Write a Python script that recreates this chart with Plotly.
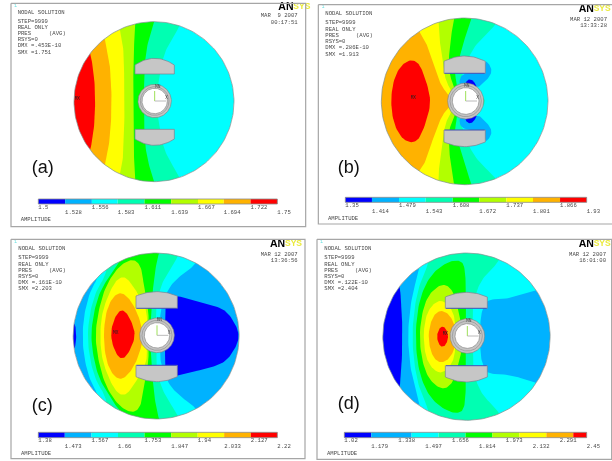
import numpy as np
import plotly.graph_objects as go

BLUE, LB, CY, AQ, GR, LI, YE, OR, RE = "#0000ff", "#00b2ff", "#00ffff", "#00ffb2", "#00ff00", "#b2ff00", "#ffff00", "#ffb200", "#ff0000"
BAR_COLORS = [BLUE, LB, CY, AQ, GR, LI, YE, OR, RE]

# --- contour levels shown under each plot
levels_a = ["1.5", "1.528", "1.556", "1.583", "1.611", "1.639", "1.667", "1.694", "1.722", "1.75"]
levels_b = ["1.35", "1.414", "1.479", "1.543", "1.608", "1.672", "1.737", "1.801", "1.866", "1.93"]
levels_c = ["1.38", "1.473", "1.567", "1.66", "1.753", "1.847", "1.94", "2.033", "2.127", "2.22"]
levels_d = ["1.02", "1.179", "1.338", "1.497", "1.656", "1.814", "1.973", "2.132", "2.291", "2.45"]
edges_d = [1.02, 1.179, 1.417, 1.576, 1.735, 1.894, 2.053, 2.212, 2.371, 2.45]

# --- header text
head_a = ["NODAL SOLUTION", "STEP=9999", "REAL ONLY", "PRES", "RSYS=0", "DMX =.453E-10", "SMX =1.751"]
head_b = ["NODAL SOLUTION", "STEP=9999", "REAL ONLY", "PRES", "RSYS=0", "DMX =.286E-10", "SMX =1.913"]
head_c = ["NODAL SOLUTION", "STEP=9999", "REAL ONLY", "PRES", "RSYS=0", "DMX =.161E-10", "SMX =2.203"]
head_d = ["NODAL SOLUTION", "STEP=9999", "REAL ONLY", "PRES", "RSYS=0", "DMX =.122E-10", "SMX =2.404"]

# --- contour band outlines (upper half, 3x panel units)
bands_a = [
    (AQ, [(205,305),(205,40),(553,40),(540,78),(510,125),(488,172),(475,250),(468,305)]),
    (GR, [(205,305),(205,40),(470,40),(462,65),(445,120),(435,175),(432,250),(432,305)]),
    (LI, [(205,305),(205,40),(408,40),(405,72),(403,120),(400,180),(400,250),(400,305)]),
    (YE, [(205,305),(205,40),(350,40),(360,88),(370,140),(372,200),(374,305)]),
    (OR, [(205,305),(205,40),(300,40),(315,118),(328,180),(333,240),(335,305)]),
    (RE, [(205,305),(205,90),(262,130),(272,162),(283,230),(286,305)]),
]
bands_b = [
    (AQ, [(205,304),(205,30),(600,30),(565,80),(520,120),(490,165),(470,222),(460,250),(458,304)]),
    (GR, [(205,304),(205,30),(505,30),(496,55),(478,110),(460,170),(445,222),(452,245),(458,304)]),
    (LI, [(205,304),(205,30),(450,30),(443,60),(435,110),(428,170),(430,222),(440,250),(447,262),(450,304)]),
    (YE, [(205,304),(205,30),(396,30),(398,78),(400,120),(410,170),(414,220),(425,255),(437,270),(440,304)]),
    (OR, [(205,304),(205,30),(325,70),(345,102),(362,130),(375,175),(395,230),(410,265),(430,285),(436,304)]),
    (RE, [(254,304),(262,240),(285,195),(315,178),(340,190),(360,240),(376,304)]),
]
lobes_b = [
    (LB, [(467,218),(537,218),(537,180),(552,195),(558,215),(547,235),(532,248),(522,262),(482,260),(457,255)]),
    (BLUE, [(477,250),(487,237),(500,240),(507,250),(515,262),(482,258)]),
]
spot_b = [(525,280),(540,304),(525,328)]

bands_c = [
    (BLUE, [(200,315),(200,270),(224,270),(230,315)]),
    (CY, [(247,315),(252,250),(270,180),(300,130),(300,40),(610,40),(590,100),(545,130),(505,170),(482,232),(480,270),(480,315)]),
    (AQ, [(262,315),(270,240),(290,175),(320,130),(330,40),(545,40),(533,80),(505,120),(480,170),(468,232),(468,270),(468,315)]),
    (GR, [(272,315),(282,240),(300,180),(335,125),(355,95),(400,45),(490,45),(475,68),(465,120),(458,180),(455,232),(452,270),(452,315)]),
    (LI, [(285,315),(295,240),(315,170),(345,120),(375,92),(405,85),(425,110),(432,170),(445,232),(446,270),(446,315)]),
    (YE, [(300,315),(305,250),(325,190),(350,145),(375,135),(400,165),(420,200),(438,232),(442,270),(442,315)]),
    (OR, [(310,315),(318,240),(340,195),(365,183),(390,205),(410,240),(425,285),(428,315)]),
    (RE, [(330,310),(345,255),(367,232),(390,260),(408,310)]),
]
blue_c = [(495,315),(495,265),(495,232),(500,195),(532,194),(580,208),(640,222),(680,240),(710,285),(717,315)]

bands_d = [
    (BLUE, [(210,317),(210,130),(275,150),(282,165),(288,250),(289,317)]),
    (CY, [(305,317),(312,230),(325,165),(345,100),(345,40),(720,40),(720,170),(690,178),(640,195),(590,205),(545,205),(530,232),(523,265),(523,317)]),
    (AQ, [(318,317),(325,230),(340,160),(365,105),(380,50),(590,50),(580,92),(535,135),(515,170),(505,205),(500,232),(500,317)]),
    (GR, [(328,317),(335,230),(355,165),(385,120),(430,90),(465,88),(477,110),(480,180),(480,232),(478,317)]),
    (LI, [(340,317),(347,250),(365,195),(395,165),(420,160),(440,180),(450,205),(455,232),(467,270),(467,317)]),
    (YE, [(352,317),(358,260),(375,225),(400,207),(420,215),(435,232),(447,262),(448,317)]),
    (OR, [(367,317),(372,280),(385,250),(405,237),(430,250),(448,285),(452,317)]),
    (RE, [(392,317),(398,295),(408,285),(420,292),(428,317)]),
]

PANELS = [
    dict(off=(0,0), frame=(33,917,10,680), disc=(462,305,240), base=CY, bands=bands_a, lobes=[], spot=None, extra=None,
         ring=(464,303,50,38), mag=(405,523,222,195,175,388,417,436), head=head_a, hx=53, hy=[38,65,84,102,120,138,157],
         avg=147, date=("MAR  9 2007","00:17:51"), dx=893, dy=(48,67), logo=(835,22), bar=(115,832,597,612), ly=(622,638),
         amp=(62,660), tag=("(a)",95,505), mx=(232,297), mn=(473,260), lev=levels_a, edges=None),
    dict(off=(306,0), frame=(37,930,14,672), disc=(476,304,250), base=CY, bands=bands_b, lobes=lobes_b, spot=spot_b, extra=None,
         ring=(479,303,54,40), mag=(414,538,220,184,168,390,426,440), head=head_b, hx=58, hy=[42,69,88,106,125,144,163],
         avg=150, date=("MAR 12 2007","13:33:28"), dx=903, dy=(58,77), logo=(818,28), bar=(118,842,592,607), ly=(618,635),
         amp=(66,655), tag=("(b)",95,505), mx=(322,295), mn=(482,258), lev=levels_b, edges=None),
    dict(off=(0,231), frame=(33,915,25,683), disc=(468.5,315,249), base=LB, bands=bands_c, lobes=[], spot=None, extra=blue_c,
         ring=(471,313,52,38), mag=(408,532,232,195,182,403,437,452), head=head_c, hx=55, hy=[54,81,100,118,137,156,174],
         avg=147, date=("MAR 12 2007","13:36:56"), dx=893, dy=(70,89), logo=(810,40), bar=(115,832,604,620), ly=(630,647),
         amp=(63,667), tag=("(c)",95,525), mx=(347,307), mn=(478,268), lev=levels_c, edges=None),
    dict(off=(306,231), frame=(33,917,25,685), disc=(481.5,317,251), base=LB, bands=bands_d, lobes=[], spot=None, extra=None,
         ring=(484,315,52,37), mag=(418,544,232,198,184,404,438,453), head=head_d, hx=55, hy=[54,81,100,118,137,156,174],
         avg=147, date=("MAR 12 2007","16:01:00"), dx=900, dy=(70,89), logo=(818,40), bar=(115,842,604,620), ly=(630,647),
         amp=(63,667), tag=("(d)",95,520), mx=(418,308), mn=(488,270), lev=levels_d, edges=edges_d),
]

MONO = "Liberation Mono"
TXT = "#4a4a4a"
fig = go.Figure()


def round_off(a, n=3):
    """Corner-cutting of a closed outline, stays inside the drawn points."""
    for _ in range(n):
        b = np.roll(a, -1, axis=0)
        a = np.vstack([np.ravel(np.column_stack([0.75 * a[:, 0] + 0.25 * b[:, 0], 0.25 * a[:, 0] + 0.75 * b[:, 0]])),
                       np.ravel(np.column_stack([0.75 * a[:, 1] + 0.25 * b[:, 1], 0.25 * a[:, 1] + 0.75 * b[:, 1]]))]).T
    return a


def poly(xs, ys, fill=None, line=None, lw=0.0):
    fig.add_trace(go.Scatter(
        x=list(xs), y=list(ys), mode="lines", hoverinfo="skip", showlegend=False,
        fill="toself" if fill else None, fillcolor=fill,
        line=dict(color=line or "rgba(0,0,0,0)", width=lw),
    ))


def text(xs, ys, labels, size=5.6, color=TXT, family=MONO, pos="middle right", weight="normal"):
    fig.add_trace(go.Scatter(
        x=xs, y=ys, text=labels, mode="text", textposition=pos, hoverinfo="skip", showlegend=False,
        cliponaxis=False, textfont=dict(size=size, color=color, family=family, weight=weight),
    ))


for p in PANELS:
    ox, oy = p["off"]
    X = lambda v: ox + np.asarray(v, float) / 3
    Y = lambda v: oy + np.asarray(v, float) / 3
    cx, cy, r = p["disc"]
    t = np.linspace(0, 2 * np.pi, 181)
    circ_x, circ_y = cx + r * np.cos(t), cy + r * np.sin(t)

    poly(X(circ_x), Y(circ_y), fill=p["base"])

    def band(color, pts):
        a = np.array(pts, float)
        my = a[0, 1]
        lower = a[::-1].copy()
        lower[:, 1] = 2 * my - lower[:, 1]
        full = round_off(np.vstack([a, lower[1:-1]]))
        poly(X(full[:, 0]), Y(full[:, 1]), fill=color)

    if p["extra"] is not None:
        band(*p["bands"][0])
        for b in p["bands"][1:]:
            band(*b)
        band(BLUE, p["extra"])
    else:
        for b in p["bands"]:
            band(*b)

    for color, pts in p["lobes"]:
        a = round_off(np.array(pts, float))
        poly(X(a[:, 0]), Y(a[:, 1]), fill=color)
        poly(X(a[:, 0]), Y(2 * cy - a[:, 1]), fill=color)
    if p["spot"]:
        a = round_off(np.array(p["spot"], float))
        poly(X(a[:, 0]), Y(a[:, 1]), fill=AQ)

    # white surround that trims the bands to the disc
    fx0, fx1, fy0, fy1 = p["frame"]
    mx_ = [fx0, fx1, fx1, fx0, fx0, cx - r] + list(cx - r * np.cos(t)) + [fx0]
    my_ = [fy0, fy0, fy1, fy1, cy, cy] + list(cy + r * np.sin(t)) + [cy]
    poly(X(mx_), Y(my_), fill="#ffffff")
    poly(X(circ_x), Y(circ_y), line="#7f8f8f", lw=0.7)

    # pole pieces
    x0, x1, f1, s1, k1, f2, s2, k2 = p["mag"]
    u = np.linspace(-1, 1, 25)
    xa = (x0 + x1) / 2 + u * (x1 - x0) / 2
    top_y = k1 + (s1 - k1) * u ** 2
    bot_y = k2 + (s2 - k2) * u ** 2
    poly(X(np.r_[x0, xa, x1, x0]), Y(np.r_[f1, top_y, f1, f1]), fill="#c6c6c6", line="#7a8290", lw=0.7)
    poly(X(np.r_[x0, xa, x1, x0]), Y(np.r_[f2, bot_y, f2, f2]), fill="#c6c6c6", line="#7a8290", lw=0.7)
    if p["extra"] is not None or p["lobes"] or p["bands"] is bands_d:
        poly(X([x0 + 2, x1 - 2]), Y([f1, f1]), line="#2233cc", lw=0.6)
        poly(X([x0 + 2, x1 - 2]), Y([f2, f2]), line="#2233cc", lw=0.6)

    # shaft ring and triad
    rx, ry, ro, ri = p["ring"]
    poly(X(rx + ro * np.cos(t)), Y(ry + ro * np.sin(t)), fill="#c4c4c4", line="#808080", lw=0.6)
    poly(X(rx + (ro - 7) * np.cos(t)), Y(ry + (ro - 7) * np.sin(t)), line="#8a8a8a", lw=0.6)
    poly(X(rx + ri * np.cos(t)), Y(ry + ri * np.sin(t)), fill="#ffffff", line="#808080", lw=0.6)
    poly(X([rx, rx]), Y([ry, ry - 30]), line="#9ee05a", lw=1)
    poly(X([rx, rx + 34]), Y([ry, ry]), line="#a8a8a8", lw=0.8)
    text([float(X(rx + 32))], [float(Y(ry - 8))], ["X"], size=4.5)
    text([float(X(p["mn"][0]))], [float(Y(p["mn"][1]))], ["MN"], size=4.5, pos="middle center")
    text([float(X(p["mx"][0]))], [float(Y(p["mx"][1]))], ["MX"], size=4.5, pos="middle center", color="#222222")

    # colour bar
    bx0, bx1, by0, by1 = p["bar"]
    vals = np.array([float(v) for v in p["lev"]])
    ticks = bx0 + (vals - vals[0]) / (vals[-1] - vals[0]) * (bx1 - bx0)
    edges = vals if p["edges"] is None else np.array(p["edges"])
    ex = bx0 + (edges - vals[0]) / (vals[-1] - vals[0]) * (bx1 - bx0)
    for i, col in enumerate(BAR_COLORS):
        poly(X([ex[i], ex[i + 1], ex[i + 1], ex[i], ex[i]]), Y([by0, by0, by1, by1, by0]), fill=col)
    poly(X([bx0, bx1, bx1, bx0, bx0]), Y([by0, by0, by1, by1, by0]), line="#8a8a8a", lw=0.8)
    ly = [p["ly"][i % 2] for i in range(10)]
    text(list(X(ticks)), list(Y(ly)), p["lev"])

    # headers, date, logo, tags
    text(list(X([p["hx"]] * 7)), list(Y(p["hy"])), p["head"])
    text([float(X(p["avg"]))], [float(Y(p["hy"][3]))], ["(AVG)"])
    text([float(X(p["dx"]))] * 2, list(Y(p["dy"])), list(p["date"]), pos="middle left")
    text([float(X(p["amp"][0]))], [float(Y(p["amp"][1]))], ["AMPLITUDE"])
    text([float(X(p["logo"][0]))], [float(Y(p["logo"][1]))], ["AN"], size=10.5, color="#000000",
         family="Liberation Sans", weight="bold")
    text([float(X(p["logo"][0] + 45))], [float(Y(p["logo"][1]))], ["SYS"], size=8.5, color="#eaea3c",
         family="Liberation Sans", weight="bold")
    text([float(X(p["frame"][0] + 10))], [float(Y(p["frame"][2] + 8))], ["1"], size=4.5, color="#66e0e0")
    tag, tx, ty = p["tag"]
    text([float(X(tx))], [float(Y(ty))], [tag], size=18, color="#111111", family="Liberation Sans")

    # frame
    poly(X([fx0, fx1, fx1, fx0, fx0]), Y([fy0, fy0, fy1, fy1, fy0]), line="#a6a6a6", lw=1.2)

fig.update_layout(
    width=612, height=461, margin=dict(l=0, r=0, t=0, b=0), autosize=False,
    paper_bgcolor="#ffffff", plot_bgcolor="#ffffff", showlegend=False,
    xaxis=dict(range=[0, 612], visible=False, fixedrange=True),
    yaxis=dict(range=[461, 0], visible=False, fixedrange=True),
)
fig.write_html("out.html", config=dict(displayModeBar=False),
               post_script="document.querySelectorAll('.main-svg').forEach(function(s){s.style.filter='blur(0.45px)';});document.body.style.margin='0';")
